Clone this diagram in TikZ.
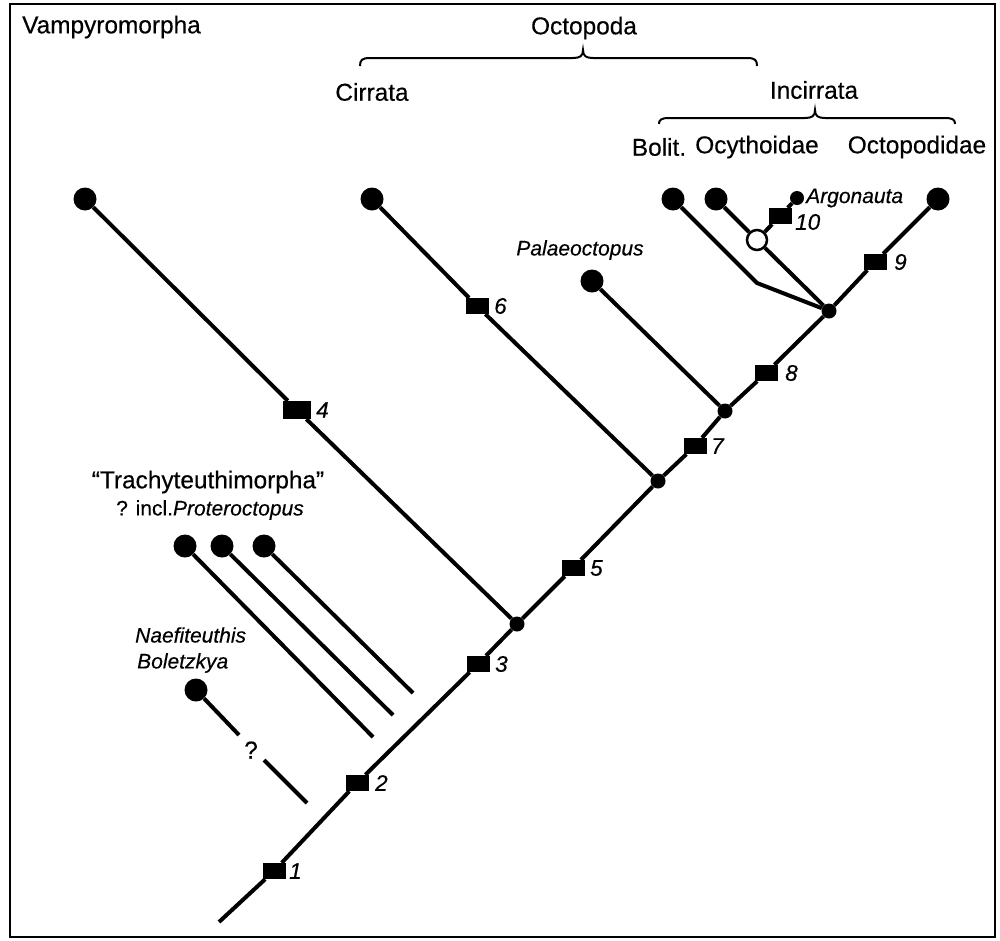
\documentclass[tikz,border=0pt]{standalone}
\usepackage{fontspec}
\setmainfont{Liberation Sans}[UprightFeatures={FakeBold=0.4},ItalicFeatures={FakeBold=0.4}]
\begin{document}
\begin{tikzpicture}[x=1pt,y=-1pt,
  tipdot/.style={circle,fill=black,inner sep=0pt,minimum size=23pt},
  jdot/.style={circle,fill=black,inner sep=0pt,minimum size=15pt},
  smalldot/.style={circle,fill=black,inner sep=0pt,minimum size=14pt},
  opendot/.style={circle,draw=black,fill=white,line width=2.5pt,inner sep=0pt,minimum size=20pt},
  charbox/.style={rectangle,fill=black,inner sep=0pt,minimum width=23pt,minimum height=16pt},
  bigbox/.style={rectangle,fill=black,inner sep=0pt,minimum width=28pt,minimum height=18pt},
  branch/.style={line width=4pt},
  bracket/.style={line width=2pt},
  lbl/.style={font=\fontsize{24.4}{28}\selectfont,inner sep=0pt},
  ilbl/.style={font=\fontsize{21}{25}\selectfont\itshape,inner sep=0pt},
  num/.style={font=\fontsize{22.5}{26}\selectfont\itshape,inner sep=0pt,anchor=west},
]
\useasboundingbox (0,0) rectangle (1000,940);
\draw[line width=2pt] (10,4) rectangle (995,937);

% trunk nodes
\coordinate (root) at (219,922);
\node[charbox] (s1) at (274,871) {};
\node[charbox] (s2) at (357,783) {};
\node[charbox] (s3) at (478,664) {};
\node[jdot] (A) at (517,624) {};
\node[charbox] (s5) at (573,568) {};
\node[jdot] (B) at (658,481) {};
\node[charbox] (s7) at (695,446) {};
\node[jdot] (C) at (725,411) {};
\node[charbox] (s8) at (766,373) {};
\node[jdot] (D) at (829,311) {};
\node[charbox] (s9) at (875,262) {};
\node[tipdot] (oct) at (938,199) {};

% other branches
\node[tipdot] (vamp) at (85,199) {};
\node[bigbox] (s4) at (297,410) {};
\node[tipdot] (cirr) at (372,199) {};
\node[charbox] (s6) at (477,306) {};
\node[tipdot] (pal) at (592,281) {};
\node[tipdot] (bol) at (673,199) {};
\coordinate (bend) at (757,283);
\node[tipdot] (ocy) at (716,199) {};
\node[opendot] (open) at (757,240) {};
\node[charbox] (s10) at (780,216) {};
\node[smalldot] (arg) at (797,198) {};

% Trachyteuthimorpha
\node[tipdot] (t1) at (185,546) {};
\node[tipdot] (t2) at (222,546) {};
\node[tipdot] (t3) at (264,546) {};
\coordinate (e1) at (373,737);
\coordinate (e2) at (393,715);
\coordinate (e3) at (413,693);

% Naefiteuthis
\node[tipdot] (nae) at (196,690) {};
\coordinate (q1) at (239,735);
\coordinate (q2) at (264,760);
\coordinate (q3) at (307,803);

% connectors
\draw[branch] (root) -- (s1) -- (s2) -- (s3) -- (A) -- (s5) -- (B) -- (s7) -- (C) -- (s8) -- (D) -- (s9) -- (oct);
\draw[branch] (vamp) -- (s4) -- (A);
\draw[branch] (cirr) -- (s6) -- (B);
\draw[branch] (pal) -- (C);
\draw[branch] (bol) -- (bend) -- (D);
\draw[branch] (ocy) -- (open) -- (D);
\draw[branch] (open) -- (s10) -- (arg);
\draw[branch] (t1) -- (e1);
\draw[branch] (t2) -- (e2);
\draw[branch] (t3) -- (e3);
\draw[branch] (nae) -- (q1);
\draw[branch] (q2) -- (q3);

% braces
\draw[bracket] (360,66) .. controls (360,60) and (362,58) .. (370,58) -- (573,58) .. controls (580,58) and (583,56) .. (583,50) .. controls (583,56) and (586,58) .. (593,58) -- (747,58) .. controls (755,58) and (757,60) .. (757,66);
\draw[bracket] (659,124) .. controls (659,120) and (661,118) .. (669,118) -- (805,118) .. controls (812,118) and (815,116) .. (815,110) .. controls (815,116) and (818,118) .. (825,118) -- (945,118) .. controls (953,118) and (955,120) .. (955,124);

% labels
\node[lbl,anchor=west] (tVamp) at (22,27) {Vampyromorpha};
\node[lbl] (tOcto) at (584,28) {Octopoda};
\node[lbl] (tCirr) at (372,92) {Cirrata};
\node[lbl] (tInc) at (814,90) {Incirrata};
\node[lbl] (tBol) at (659,147) {Bolit.};
\node[lbl] (tOcy) at (757,147) {Ocythoidae};
\node[lbl] (tOctd) at (917,147) {Octopodidae};
\node[ilbl,anchor=west] (tArg) at (806,198) {Argonauta};
\node[ilbl] (tPal) at (580,250) {Palaeoctopus};
\node[lbl] (tTra) at (208,482) {“Trachyteuthimorpha”};
\node[inner sep=0pt,font=\fontsize{21}{25}\selectfont] (tPro) at (210,510) {? incl.\textit{Proteroctopus}};
\node[ilbl,anchor=west] (tNae) at (135,635) {Naefiteuthis};
\node[ilbl,anchor=west] (tBlz) at (137,663) {Boletzkya};
\node[lbl] (tQ) at (251,750) {?};

\node[num] (n1) at (289,871) {1};
\node[num] (n2) at (375,783) {2};
\node[num] (n3) at (495,664) {3};
\node[num] (n4) at (316,410) {4};
\node[num] (n5) at (590,568) {5};
\node[num] (n6) at (494,306) {6};
\node[num] (n7) at (711,446) {7};
\node[num] (n8) at (785,373) {8};
\node[num] (n9) at (894,262) {9};
\node[num] (n10) at (795,222) {10};
\end{tikzpicture}
\end{document}
